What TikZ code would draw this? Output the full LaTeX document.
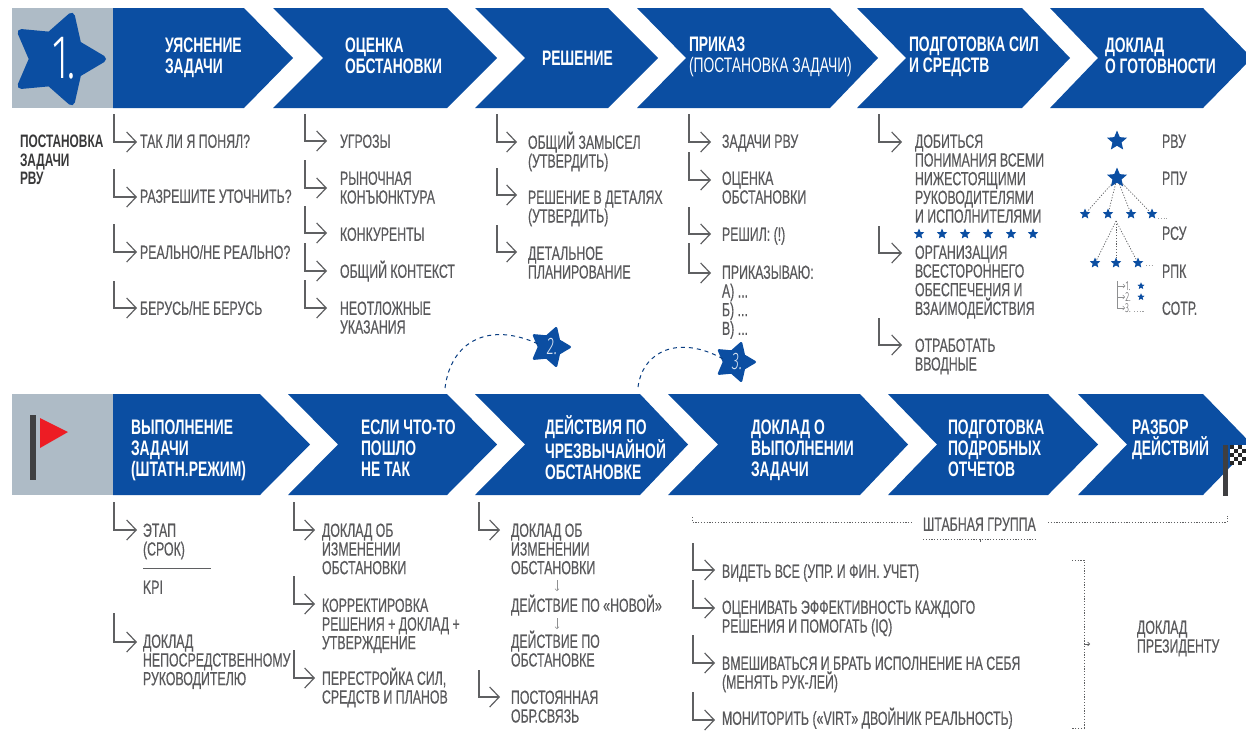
\documentclass[tikz,border=0pt]{standalone}
\usepackage{fontspec}
\usetikzlibrary{arrows.meta,shapes.geometric}
\newfontfamily\bodyf[FakeStretch=0.65,FakeBold=0.35]{Liberation Sans}
\newfontfamily\headf[FakeStretch=0.66]{Liberation Sans}
\newfontfamily\thinf[FakeStretch=0.62]{Fira Sans Light}
\definecolor{chevblue}{HTML}{0B4EA2}
\definecolor{greybox}{HTML}{AEBBC6}
\definecolor{bodygrey}{HTML}{59595B}
\definecolor{linegrey}{HTML}{5F6062}
\definecolor{flagred}{HTML}{ED1C24}
\definecolor{poledark}{HTML}{3F3F41}
\tikzset{
 x=1pt,y=-1pt,
 chevfill/.style={fill=chevblue,draw=none},
 hookline/.style={draw=linegrey,line width=1.2pt,-{Straight Barb[length=9.5pt,width=20pt]}},
 tinyhook/.style={draw=linegrey!70,line width=.5pt,-{Straight Barb[length=2pt,width=4pt]}},
 bodytext/.style={anchor=north west,inner sep=0pt,outer sep=0pt,align=left,text=bodygrey,font=\bodyf\fontsize{19}{18.7}\selectfont},
 headtext/.style={anchor=north west,inner sep=0pt,outer sep=0pt,align=left,text=white,font=\headf\bfseries\fontsize{21}{21.2}\selectfont},
 roundstar/.style={star,star points=5,star point ratio=1.8,shape border rotate=-18,fill=chevblue,draw=chevblue,line join=round,inner sep=0pt,outer sep=0pt},
 rowstar/.style={star,star points=5,star point ratio=2.2,fill=chevblue,draw=none,inner sep=0pt,outer sep=0pt,minimum size=#1},
 dotline/.style={draw=linegrey,line width=.7pt,dash pattern=on 1.2pt off 1.6pt},
 dashcurve/.style={draw=chevblue!80!black,line width=1pt,dash pattern=on 4pt off 4pt},
}
\newcommand{\chev}[6]{\fill[chevfill] (#1,#5) -- (#3,#5) -- (#4,{(#5+#6)/2}) -- (#3,#6) -- (#1,#6) -- (#2,{(#5+#6)/2}) -- cycle;}
\newcommand{\bdt}[4]{\node[bodytext] (#1) at (#2,#3-11.2) {\rule{0pt}{18pt}#4};}
\newcommand{\hdt}[4]{\node[headtext] (#1) at (#2,#3-14.5) {\rule{0pt}{22pt}#4};}
\newcommand{\hk}[5]{\coordinate (#1-a) at (#2,#3); \coordinate (#1-b) at (#5,#4); \draw[hookline] (#1-a) |- (#1-b);}
\begin{document}
\begin{tikzpicture}
\clip (0,0) rectangle (1246,731);
\fill[white] (0,0) rectangle (1246,731);
% grey boxes
\fill[greybox] (12,8) rectangle (114,108);
\fill[greybox] (12,394) rectangle (114,495);
% top chevrons
\chev{113}{113}{244}{293}{8}{108}
\chev{273}{323}{447}{497}{8}{108}
\chev{475}{525}{608}{658}{8}{108}
\chev{637}{686}{830}{878}{8}{108}
\chev{857}{906}{1022}{1070}{8}{108}
\chev{1050}{1098}{1203}{1252}{8}{108}
% bottom chevrons
\chev{113}{113}{260}{310}{394}{495}
\chev{288}{338}{447}{497}{394}{495}
\chev{475}{525}{640}{688}{394}{495}
\chev{668}{718}{860}{908}{394}{495}
\chev{888}{937}{1048}{1098}{394}{495}
\chev{1078}{1127}{1203}{1252}{394}{495}
% big star
\node[roundstar,line width=7pt,minimum size=90pt] (s1) at (57.5,59) {};
\node[inner sep=0pt,text=white,font=\thinf\fontsize{62}{62}\selectfont] (s1t) at (64,58) {1.};
% flag
\fill[poledark] (30,415) rectangle (36,480);
\fill[flagred] (40,418) -- (68,432) -- (40,448) -- cycle;
% checkered flag
\fill[poledark] (1223,445) rectangle (1228,496);
\fill[white] (1230,445) rectangle (1246,465);
\foreach \i in {0,1,2,3}{\foreach \j in {0,1,2,3,4}{
  \pgfmathparse{int(mod(\i+\j,2))}
  \ifnum\pgfmathresult=0 \fill[black!85] ({1230+4*\i},{445+4*\j}) rectangle ++(4,4);\fi}}
% top headers
\hdt{h1}{165}{45}{УЯСНЕНИЕ\\ЗАДАЧИ}
\hdt{h2}{345}{45}{ОЦЕНКА\\ОБСТАНОВКИ}
\hdt{h3}{542}{58}{РЕШЕНИЕ}
\hdt{h4}{689}{44}{ПРИКАЗ\\\mdseries (ПОСТАНОВКА ЗАДАЧИ)}
\hdt{h5}{909}{44}{ПОДГОТОВКА СИЛ\\И СРЕДСТВ}
\hdt{h6}{1105}{45}{ДОКЛАД\\О ГОТОВНОСТИ}
% bottom headers
\hdt{b1}{131}{427}{ВЫПОЛНЕНИЕ\\ЗАДАЧИ\\(ШТАТН.РЕЖИМ)}
\hdt{b2}{361}{427}{ЕСЛИ ЧТО-ТО\\ПОШЛО\\НЕ ТАК}
\hdt{b3}{545}{427}{ДЕЙСТВИЯ ПО\\ЧРЕЗВЫЧАЙНОЙ\\ОБСТАНОВКЕ}
\hdt{b4}{751}{427}{ДОКЛАД О\\ВЫПОЛНЕНИИ\\ЗАДАЧИ}
\hdt{b5}{948}{427}{ПОДГОТОВКА\\ПОДРОБНЫХ\\ОТЧЕТОВ}
\hdt{b6}{1132}{427}{РАЗБОР\\ДЕЙСТВИЙ}
% left label
\node[bodytext,text=poledark!90!black,font=\headf\bfseries\fontsize{18}{18.7}\selectfont] (lab) at (20,141-11.5) {\rule{0pt}{18pt}ПОСТАНОВКА\\ЗАДАЧИ\\РВУ};
% column 1
\hk{a1}{114}{114}{142}{137}\bdt{ta1}{140}{141}{ТАК ЛИ Я ПОНЯЛ?}
\hk{a2}{114}{169}{197}{137}\bdt{ta2}{140}{196}{РАЗРЕШИТЕ УТОЧНИТЬ?}
\hk{a3}{114}{224}{252}{137}\bdt{ta3}{140}{252}{РЕАЛЬНО/НЕ РЕАЛЬНО?}
\hk{a4}{114}{281}{308}{137}\bdt{ta4}{140}{308}{БЕРУСЬ/НЕ БЕРУСЬ}
% column 2
\hk{c1}{305}{114}{141}{327}\bdt{tc1}{340}{141}{УГРОЗЫ}
\hk{c2}{305}{160}{188}{327}\bdt{tc2}{340}{178}{РЫНОЧНАЯ\\КОНЪЮНКТУРА}
\hk{c3}{305}{206}{233}{327}\bdt{tc3}{340}{234}{КОНКУРЕНТЫ}
\hk{c4}{305}{243}{271}{327}\bdt{tc4}{340}{271}{ОБЩИЙ КОНТЕКСТ}
\hk{c5}{305}{280}{308}{327}\bdt{tc5}{340}{308}{НЕОТЛОЖНЫЕ\\УКАЗАНИЯ}
% column 3
\hk{d1}{497}{114}{142}{517}\bdt{td1}{528}{142}{ОБЩИЙ ЗАМЫСЕЛ\\(УТВЕРДИТЬ)}
\hk{d2}{497}{168}{195}{517}\bdt{td2}{528}{197}{РЕШЕНИЕ В ДЕТАЛЯХ\\(УТВЕРДИТЬ)}
\hk{d3}{497}{225}{252}{517}\bdt{td3}{528}{253}{ДЕТАЛЬНОЕ\\ПЛАНИРОВАНИЕ}
% column 4
\hk{e1}{689}{114}{142}{711}\bdt{te1}{722}{141}{ЗАДАЧИ РВУ}
\hk{e2}{689}{152}{180}{711}\bdt{te2}{722}{178}{ОЦЕНКА\\ОБСТАНОВКИ}
\hk{e3}{689}{207}{234}{711}\bdt{te3}{722}{234}{РЕШИЛ: (!)}
\hk{e4}{689}{243}{273}{711}\bdt{te4}{722}{272}{ПРИКАЗЫВАЮ:\\А) ...\\Б) ...\\В) ...}
% column 5
\hk{f1}{879}{114}{142}{902}\bdt{tf1}{915}{141}{ДОБИТЬСЯ\\ПОНИМАНИЯ ВСЕМИ\\НИЖЕСТОЯЩИМИ\\РУКОВОДИТЕЛЯМИ\\И ИСПОЛНИТЕЛЯМИ}
\node[rowstar=11pt] (r1) at (919,234) {};
\node[rowstar=11pt] (r2) at (942,234) {};
\node[rowstar=11pt] (r3) at (965,234) {};
\node[rowstar=11pt] (r4) at (988,234) {};
\node[rowstar=11pt] (r5) at (1011,234) {};
\node[rowstar=11pt] (r6) at (1033,234) {};
\hk{f2}{879}{226}{253}{902}\bdt{tf2}{915}{252}{ОРГАНИЗАЦИЯ\\ВСЕСТОРОННЕГО\\ОБЕСПЕЧЕНИЯ И\\ВЗАИМОДЕЙСТВИЯ}
\hk{f3}{879}{318}{345}{902}\bdt{tf3}{915}{345}{ОТРАБОТАТЬ\\ВВОДНЫЕ}
% hierarchy
\node[rowstar=21pt] (top) at (1117,141) {};
\node[rowstar=21pt] (rpu) at (1117,178) {};
\node[rowstar=11pt] (k1) at (1085,214) {};
\node[rowstar=11pt] (k2) at (1108,214) {};
\node[rowstar=11pt] (k3) at (1131,214) {};
\node[rowstar=11pt] (k4) at (1152,214) {};
\draw[dotline] (rpu) -- (k1);
\draw[dotline] (rpu) -- (k2);
\draw[dotline] (rpu) -- (k3);
\draw[dotline] (rpu) -- (k4);
\coordinate (k4e) at (1167,218);
\coordinate (k4s) at (1158,218);
\draw[dotline,draw=linegrey!60] (k4s) -- (k4e);
\node[rowstar=11pt] (m1) at (1095,263) {};
\node[rowstar=11pt] (m2) at (1116,263) {};
\node[rowstar=11pt] (m3) at (1138,263) {};
\coordinate (mtop) at (1116,221);
\draw[dotline] (mtop) -- (m1);
\draw[dotline] (mtop) -- (m2);
\draw[dotline] (mtop) -- (m3);
\coordinate (m3s) at (1146,265);
\coordinate (m3e) at (1153,265);
\draw[dotline,draw=linegrey!60] (m3s) -- (m3e);
\bdt{p1}{1162}{141}{РВУ}
\bdt{p2}{1162}{178}{РПУ}
\bdt{p3}{1162}{233}{РСУ}
\bdt{p4}{1162}{271}{РПК}
\bdt{p5}{1162}{308}{СОТР.}
\coordinate (t0) at (1117,281);
\node[inner sep=0pt,text=bodygrey,font=\thinf\fontsize{13}{13}\selectfont] (n1) at (1128,286) {1.};
\node[inner sep=0pt,text=bodygrey,font=\thinf\fontsize{13}{13}\selectfont] (n2) at (1128,297) {2.};
\node[inner sep=0pt,text=bodygrey,font=\thinf\fontsize{13}{13}\selectfont] (n3) at (1128,308) {3.};
\draw[tinyhook] (t0) |- (n1.west);
\draw[tinyhook] (t0) |- (n2.west);
\draw[tinyhook] (t0) |- (n3.west);
\node[rowstar=7.5pt] (n1s) at (1141,286) {};
\node[rowstar=7.5pt] (n2s) at (1141,297) {};
\coordinate (n3s) at (1134,311);
\coordinate (n3e) at (1144,311);
\draw[dotline,draw=linegrey!60] (n3s) -- (n3e);
% stars 2,3
\node[roundstar,line width=2.5pt,minimum size=39.5pt] (s2) at (550,347) {};
\node[inner sep=0pt,text=white!85!chevblue,font=\thinf\itshape\fontsize{24}{24}\selectfont] (s2t) at (552,347) {2.};
\node[roundstar,line width=2.5pt,minimum size=39.5pt] (s3) at (735,362) {};
\node[inner sep=0pt,text=white!85!chevblue,font=\thinf\itshape\fontsize{24}{24}\selectfont] (s3t) at (737,362) {3.};
\coordinate (u2) at (445,388);
\coordinate (u3) at (638,387);
\draw[dashcurve] (u2) .. controls (451,340) and (490,322) .. (s2.165);
\draw[dashcurve] (u3) .. controls (643,350) and (680,335) .. (s3.165);
% bottom column 1
\hk{g1}{114}{502}{530}{137}\bdt{tg1}{143}{530}{ЭТАП\\(СРОК)}
\coordinate (rl) at (143,568); \coordinate (rr) at (211,568);
\draw[draw=linegrey,line width=1pt] (rl) -- (rr);
\bdt{tg3}{143}{587}{KPI}
\hk{g2}{114}{613}{642}{137}\bdt{tg2}{143}{641}{ДОКЛАД\\НЕПОСРЕДСТВЕННОМУ\\РУКОВОДИТЕЛЮ}
% bottom column 2
\hk{i1}{294}{502}{530}{315}\bdt{ti1}{322}{530}{ДОКЛАД ОБ\\ИЗМЕНЕНИИ\\ОБСТАНОВКИ}
\hk{i2}{294}{576}{604}{315}\bdt{ti2}{322}{605}{КОРРЕКТИРОВКА\\РЕШЕНИЯ + ДОКЛАД +\\УТВЕРЖДЕНИЕ}
\hk{i3}{294}{650}{678}{315}\bdt{ti3}{322}{678}{ПЕРЕСТРОЙКА СИЛ,\\СРЕДСТВ И ПЛАНОВ}
% bottom column 3
\hk{j1}{479}{502}{530}{500}\bdt{tj1}{511}{530}{ДОКЛАД ОБ\\ИЗМЕНЕНИИ\\ОБСТАНОВКИ}
\bdt{tj2}{511}{605}{ДЕЙСТВИЕ ПО «НОВОЙ»}
\bdt{tj3}{511}{641}{ДЕЙСТВИЕ ПО\\ОБСТАНОВКЕ}
\coordinate (v1a) at (557,580); \coordinate (v1b) at (557,591);
\coordinate (v2a) at (557,618); \coordinate (v2b) at (557,629);
\draw[tinyhook] (v1a) -- (v1b);
\draw[tinyhook] (v2a) -- (v2b);
\hk{j2}{479}{670}{697}{500}\bdt{tj4}{511}{697}{ПОСТОЯННАЯ\\ОБР.СВЯЗЬ}
% bottom column 4
\hk{l1}{693}{543}{570}{715}\bdt{tl1}{722}{571}{ВИДЕТЬ ВСЕ (УПР. И ФИН. УЧЕТ)}
\hk{l2}{693}{580}{608}{715}\bdt{tl2}{722}{607}{ОЦЕНИВАТЬ ЭФФЕКТИВНОСТЬ КАЖДОГО\\РЕШЕНИЯ И ПОМОГАТЬ (IQ)}
\hk{l3}{693}{635}{663}{715}\bdt{tl3}{722}{663}{ВМЕШИВАТЬСЯ И БРАТЬ ИСПОЛНЕНИЕ НА СЕБЯ\\(МЕНЯТЬ РУК-ЛЕЙ)}
\hk{l4}{693}{692}{720}{715}\bdt{tl4}{722}{718}{МОНИТОРИТЬ («VIRT» ДВОЙНИК РЕАЛЬНОСТЬ)}
% staff group
\bdt{staff}{923}{524}{ШТАБНАЯ ГРУППА}
\coordinate (q1) at (692,522); \coordinate (q2) at (912,522);
\coordinate (q3) at (1048,522); \coordinate (q4) at (1227,522);
\coordinate (q1t) at (692,517); \coordinate (q4t) at (1227,516);
\coordinate (q5) at (923,539); \coordinate (q6) at (1037,539);
\coordinate (q7) at (980,539); \coordinate (q8) at (980,542);
\draw[dotline] (q1t) |- (q2);
\draw[dotline] (q3) -| (q4t);
\draw[dotline] (q5) -- (q6);
\draw[draw=linegrey,line width=1pt] (q7) -- (q8);
% report bracket
\coordinate (w1) at (1072,560); \coordinate (w2) at (1084,560);
\coordinate (w3) at (1084,728); \coordinate (w4) at (1072,728);
\coordinate (w5) at (1084,644); \coordinate (w6) at (1090,644);
\draw[dotline] (w1) -- (w2) -- (w3) -- (w4);
\draw[draw=linegrey,line width=.6pt,-{Straight Barb[length=2pt,width=4pt]}] (w5) -- (w6);
\bdt{pres}{1137}{627}{ДОКЛАД\\ПРЕЗИДЕНТУ}
\end{tikzpicture}
\end{document}
